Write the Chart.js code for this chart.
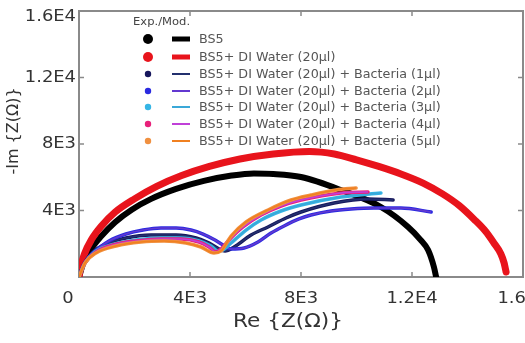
<!DOCTYPE html>
<html>
<head>
<meta charset="utf-8">
<script src="https://cdn.jsdelivr.net/npm/chart.js"></script>
<style>
  html, body { margin: 0; padding: 0; background: #fff; }
</style>
</head>
<body>
<canvas id="chart" width="525" height="343"></canvas>
<script>
// Nyquist data, [Re, -Im] in ohm
const bs5 = [[0,0],[150,800],[400,1600],[800,2450],[1300,3300],[1900,4050],[2600,4700],[3500,5300],[4500,5780],[5500,6100],[6300,6230],[7000,6200],[8000,6015],[9440,5230],[10880,4210],[11860,3010],[12300,2250],[12580,1620],[12790,600],[12870,0]];
const bs5Water = [[0,0],[60,600],[200,1400],[450,2250],[800,3050],[1300,3900],[2000,4700],[2800,5450],[3700,6100],[4700,6650],[5800,7100],[7000,7400],[8300,7550],[9200,7400],[10000,7050],[10800,6650],[11600,6200],[12400,5650],[13100,5000],[13700,4300],[14250,3450],[14650,2750],[14950,2050],[15200,1400],[15320,840],[15390,300]];
const bac1 = [[0,0],[180,780],[505,1500],[970,1985],[1690,2350],[2600,2530],[3500,2530],[4220,2350],[4690,2045],[5050,1685],[5260,1565],[5590,1805],[6200,2530],[6810,3010],[7460,3550],[8000,3910],[9190,4450],[10420,4690],[11320,4630]];
const bac2 = [[0,0],[145,660],[360,1200],[720,1745],[1080,2165],[1690,2585],[2310,2825],[2955,2945],[3500,2945],[4035,2825],[4470,2585],[4900,2225],[5190,1925],[5480,1685],[5950,1745],[6450,2105],[6920,2645],[7390,3070],[7930,3490],[8360,3730],[9080,3970],[9800,4090],[10630,4150],[11600,4150],[12690,3910]];
const bac3 = [[0,0],[215,840],[575,1505],[1150,1925],[2055,2225],[2955,2345],[3675,2345],[4325,2165],[4755,1865],[5010,1565],[5190,1625],[5480,2045],[6020,2825],[6560,3430],[7280,3970],[8000,4330],[9440,4810],[10880,5055]];
const bac4 = [[0,0],[215,840],[615,1505],[1225,1925],[2055,2165],[2955,2285],[3675,2285],[4325,2105],[4685,1805],[4935,1505],[5120,1685],[5405,2225],[5910,3010],[6560,3730],[7280,4270],[8000,4630],[9440,5055],[10415,5115]];
const bac5 = [[0,0],[215,840],[615,1445],[1335,1865],[2235,2105],[3065,2165],[3855,2045],[4395,1805],[4865,1445],[5120,1565],[5480,2465],[6020,3310],[6810,4030],[7640,4630],[8360,4930],[9260,5235],[9985,5355]];

const seriesNames = [
  "BS5",
  "BS5+ DI Water (20µl)",
  "BS5+ DI Water (20µl) + Bacteria (1µl)",
  "BS5+ DI Water (20µl) + Bacteria (2µl)",
  "BS5+ DI Water (20µl) + Bacteria (3µl)",
  "BS5+ DI Water (20µl) + Bacteria (4µl)",
  "BS5+ DI Water (20µl) + Bacteria (5µl)"
];
const seriesData = [bs5, bs5Water, bac1, bac2, bac3, bac4, bac5];

const xTicks = [0, 4000, 8000, 12000, 16000];
const xTickLabels = ["0", "4E3", "8E3", "1.2E4", "1.6E4"];
const yTicks = [0, 4000, 8000, 12000, 16000];
const yTickLabels = ["", "4E3", "8E3", "1.2E4", "1.6E4"];

// colours: dots (exp.) and lines (model)
const dotColors = ["#000000", "#e8141c", "#16165c", "#2a2ae0", "#35b5e5", "#e8207a", "#f09040"];
const lineColors = ["#000000", "#e8141c", "#23306e", "#6238d0", "#3aa8d8", "#c040d8", "#f08020"];
const expWidth = [6, 7, 3.5, 3.5, 3.5, 3.5, 3.5];
const modWidth = [2, 2, 1.6, 1.6, 1.6, 1.6, 1.6];

const FONT = "'DejaVu Sans', sans-serif";
const toPts = arr => arr.map(p => ({ x: p[0], y: p[1] }));

// the original figure is a bit stretched sideways, so text gets a small x-scale
function wideText(ctx, text, x, y, sx) {
  ctx.save();
  ctx.translate(x, y);
  ctx.scale(sx, 1);
  ctx.fillText(text, 0, 0);
  ctx.restore();
}

const datasets = [];
seriesData.forEach((d, i) => {
  // exp band under, model line over; the two big arcs sit at the bottom
  const base = i < 2 ? 20 - i * 2 : 10 - i * 0.2;
  datasets.push({
    label: seriesNames[i] + " exp",
    data: toPts(d),
    showLine: true,
    borderColor: dotColors[i],
    borderWidth: expWidth[i],
    borderCapStyle: "round",
    pointRadius: 0,
    cubicInterpolationMode: "monotone",
    order: base + 0.1
  });
  datasets.push({
    label: seriesNames[i] + " mod",
    data: toPts(d),
    showLine: true,
    borderColor: lineColors[i],
    borderWidth: modWidth[i],
    pointRadius: 0,
    cubicInterpolationMode: "monotone",
    order: base
  });
});

const extras = {
  id: "extras",
  beforeDatasetsDraw(chart) {
    const { ctx, chartArea: a, scales: { x, y } } = chart;
    ctx.save();
    ctx.strokeStyle = "#8a8a8a";
    ctx.lineWidth = 2;
    ctx.strokeRect(a.left, a.top, a.right - a.left, a.bottom - a.top);
    ctx.lineWidth = 1.5;
    ctx.beginPath();
    xTicks.forEach(v => {
      const px = x.getPixelForValue(v);
      ctx.moveTo(px, a.bottom); ctx.lineTo(px, a.bottom - 5);
      ctx.moveTo(px, a.top); ctx.lineTo(px, a.top + 5);
    });
    yTicks.forEach(v => {
      const py = y.getPixelForValue(v);
      ctx.moveTo(a.left, py); ctx.lineTo(a.left + 5, py);
      ctx.moveTo(a.right, py); ctx.lineTo(a.right - 5, py);
    });
    ctx.stroke();
    ctx.restore();
  },
  afterDraw(chart) {
    const { ctx, chartArea: a, scales: { x, y } } = chart;
    ctx.save();
    ctx.fillStyle = "#333";
    ctx.font = "16px " + FONT;
    ctx.textBaseline = "middle";

    // tick labels (x "0" sits left of its tick, as in the original)
    ctx.textAlign = "center";
    xTicks.forEach((v, i) => {
      const px = i === 0 ? 68 : x.getPixelForValue(v);
      wideText(ctx, xTickLabels[i], px, 299, 1.12);
    });
    ctx.textAlign = "right";
    yTicks.forEach((v, i) => {
      const py = Math.max(y.getPixelForValue(v), 17);
      wideText(ctx, yTickLabels[i], a.left - 3, py, 1.12);
    });

    // axis titles
    ctx.textAlign = "center";
    ctx.font = "19px " + FONT;
    wideText(ctx, "Re {Z(Ω)}", 288, 322, 1.14);
    ctx.save();
    ctx.translate(14, 131);
    ctx.rotate(-Math.PI / 2);
    ctx.font = "16px " + FONT;
    ctx.fillText("-Im {Z(Ω)}", 0, 0);
    ctx.restore();

    // legend
    const rows = [39, 57, 74, 91, 107, 124, 141];
    ctx.textAlign = "left";
    ctx.fillStyle = "#444";
    ctx.font = "11px " + FONT;
    wideText(ctx, "Exp./Mod.", 133, 22, 1.05);
    ctx.font = "12px " + FONT;
    seriesNames.forEach((name, i) => {
      const yy = rows[i];
      ctx.fillStyle = dotColors[i];
      ctx.beginPath();
      ctx.arc(148, yy, i < 2 ? 5 : 3.2, 0, Math.PI * 2);
      ctx.fill();
      ctx.strokeStyle = lineColors[i];
      ctx.lineWidth = i < 2 ? 5 : 2;
      ctx.beginPath();
      ctx.moveTo(172, yy); ctx.lineTo(190, yy);
      ctx.stroke();
      ctx.fillStyle = "#555";
      wideText(ctx, name, 199, yy + 1, 1.06);
    });
    ctx.restore();
  }
};

new Chart(document.getElementById("chart"), {
  type: "scatter",
  data: { datasets },
  options: {
    responsive: false,
    animation: false,
    devicePixelRatio: 1,
    layout: { padding: { left: 0, right: 2, top: 11, bottom: 0 } },
    plugins: { legend: { display: false }, tooltip: { enabled: false } },
    scales: {
      x: {
        type: "linear",
        min: 0, max: 16000,
        grid: { display: false, drawTicks: false },
        border: { display: false },
        afterBuildTicks: s => { s.ticks = xTicks.map(v => ({ value: v })); },
        afterFit: s => { s.height = 66; s.paddingLeft = 0; s.paddingRight = 0; },
        ticks: { display: false }
      },
      y: {
        type: "linear",
        min: 0, max: 16000,
        grid: { display: false, drawTicks: false },
        border: { display: false },
        afterBuildTicks: s => { s.ticks = yTicks.map(v => ({ value: v })); },
        afterFit: s => { s.width = 79; s.paddingTop = 0; s.paddingBottom = 0; },
        ticks: { display: false }
      }
    }
  },
  plugins: [extras]
});
</script>
</body>
</html>
